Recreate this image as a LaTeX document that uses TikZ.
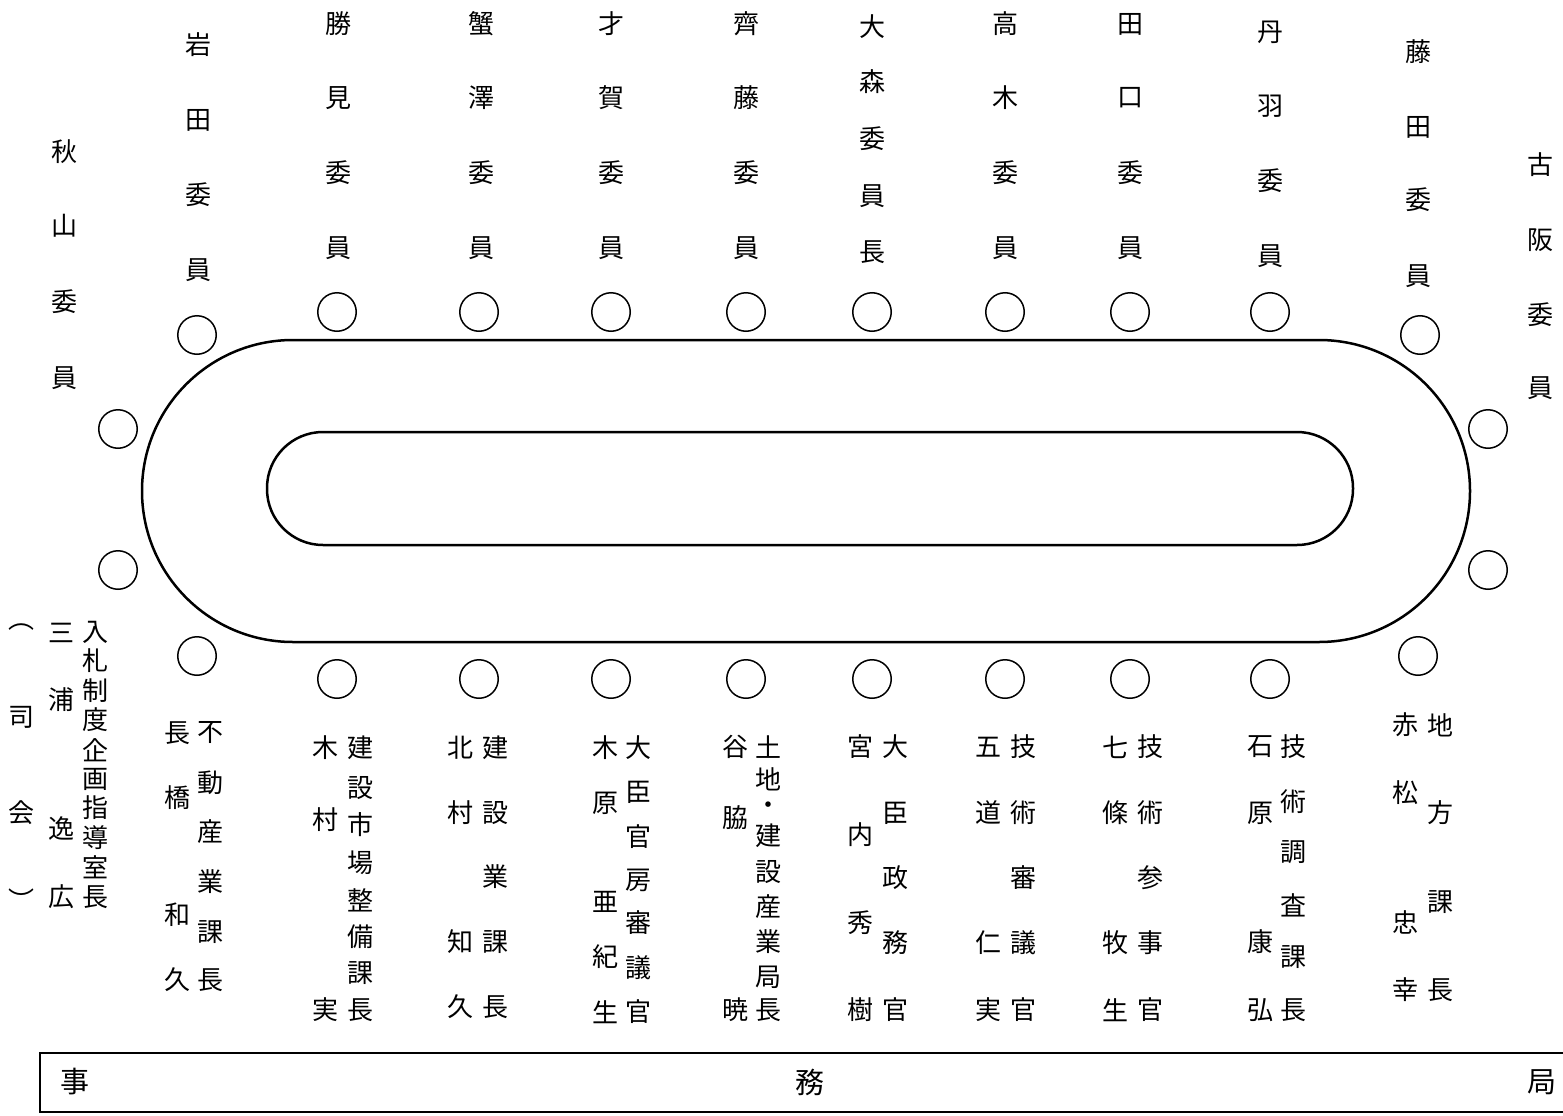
\documentclass[tikz,border=0pt]{standalone}
\usepackage{fontspec}
\setmainfont{Noto Sans CJK JP}
\usepackage{tikz}
\tikzset{
  seat/.style={draw, circle, line width=1.5pt, minimum size=38.5pt, inner sep=0pt},
  kanji/.style={inner sep=0pt, font=\fontsize{26}{26}\selectfont},
  jimu/.style={inner sep=0pt, font=\fontsize{29}{29}\selectfont},
  desk/.style={line width=2.5pt}
}
\newcommand\tatecol[3]{%
  \foreach \ch/\y [count=\n] in {#3}
    \node[kanji] (#1\n) at (#2,\y) {\ch};}

\begin{document}
\begin{tikzpicture}[x=1pt, y=-1pt]
  \useasboundingbox (0,0) rectangle (1563,1116);
  \draw[desk, rounded corners=151pt] (142,340) rectangle (1470,642);
  \draw[desk, rounded corners=56pt] (267,432) rectangle (1353,545);
  \foreach \x [count=\n] in {337,479,611,746,872,1005,1130,1270} {
    \node[seat] (top\n) at (\x,312) {};
    \node[seat] (bot\n) at (\x,679) {};
  }
  \foreach \x/\y [count=\n] in {197/335, 1420/335, 118/429, 1488/429, 118/570, 1488/570, 197/656, 1418/656}
    \node[seat] (side\n) at (\x,\y) {};
  \tatecol{akiyama}{64}{秋/152, 山/226, 委/302, 員/378}
  \tatecol{iwata}{198}{岩/45, 田/120, 委/195, 員/270}
  \tatecol{katsumi}{338}{勝/24, 見/98, 委/173, 員/248}
  \tatecol{kanizawa}{481}{蟹/24, 澤/98, 委/173, 員/248}
  \tatecol{saiga}{611}{才/24, 賀/98, 委/173, 員/248}
  \tatecol{saito}{746}{齊/24, 藤/98, 委/173, 員/248}
  \tatecol{omori}{872}{大/27, 森/82, 委/139, 員/196, 長/252}
  \tatecol{takagi}{1005}{高/24, 木/98, 委/173, 員/248}
  \tatecol{taguchi}{1130}{田/24, 口/98, 委/173, 員/248}
  \tatecol{niwa}{1270}{丹/32, 羽/106, 委/181, 員/256}
  \tatecol{fujita}{1418}{藤/52, 田/127, 委/200, 員/276}
  \tatecol{furusaka}{1540}{古/165, 阪/240, 委/315, 員/388}
  \tatecol{shikai}{22}{︵/627, 司/717, 会/813, ︶/900}
  \tatecol{miura}{61}{三/633, 浦/700, 逸/828, 広/897}
  \tatecol{nyusatsu}{95}{入/632, 札/661, 制/691, 度/720, 企/750, 画/779, 指/808, 導/838, 室/867, 長/897}
  \tatecol{fudosan}{210}{不/732, 動/783, 産/832, 業/882, 課/932, 長/980}
  \tatecol{nagahashi}{177}{長/733, 橋/798, 和/915, 久/980}
  \tatecol{shijo}{360}{建/748, 設/788, 市/825, 場/863, 整/900, 備/937, 課/973, 長/1010}
  \tatecol{kimura}{325}{木/748, 村/820, 実/1010}
  \tatecol{kensetsu}{495}{建/748, 設/813, 業/877, 課/942, 長/1007}
  \tatecol{kitamura}{460}{北/748, 村/813, 知/942, 久/1007}
  \tatecol{kanbo}{638}{大/748, 臣/792, 官/837, 房/880, 審/923, 議/968, 官/1012}
  \tatecol{kihara}{605}{木/748, 原/803, 亜/902, 紀/957, 生/1012}
  \tatecol{tochi}{768}{土/747, 地/779, ・/808, 建/836, 設/872, 産/907, 業/942, 局/977, 長/1010}
  \tatecol{taniwaki}{735}{谷/747, 脇/818, 暁/1010}
  \tatecol{seimu}{895}{大/747, 臣/813, 政/878, 務/943, 官/1010}
  \tatecol{miyauchi}{860}{宮/747, 内/835, 秀/923, 樹/1010}
  \tatecol{shingi}{1023}{技/747, 術/813, 審/878, 議/943, 官/1010}
  \tatecol{godo}{988}{五/747, 道/813, 仁/943, 実/1010}
  \tatecol{sanji}{1150}{技/747, 術/813, 参/878, 事/943, 官/1010}
  \tatecol{shichijo}{1115}{七/747, 條/813, 牧/943, 生/1010}
  \tatecol{chosa}{1293}{技/747, 術/802, 調/852, 査/905, 課/957, 長/1010}
  \tatecol{ishihara}{1260}{石/747, 原/813, 康/942, 弘/1010}
  \tatecol{chiho}{1440}{地/725, 方/813, 課/902, 長/990}
  \tatecol{akamatsu}{1405}{赤/725, 松/793, 忠/922, 幸/990}
  \draw[line width=2pt] (1563,1053) -- (40,1053) -- (40,1112) -- (1563,1112);
  \foreach \ch/\x [count=\n] in {事/75, 務/810, 局/1542}
    \node[jimu] (jimu\n) at (\x,1082) {\ch};
\end{tikzpicture}
\end{document}
